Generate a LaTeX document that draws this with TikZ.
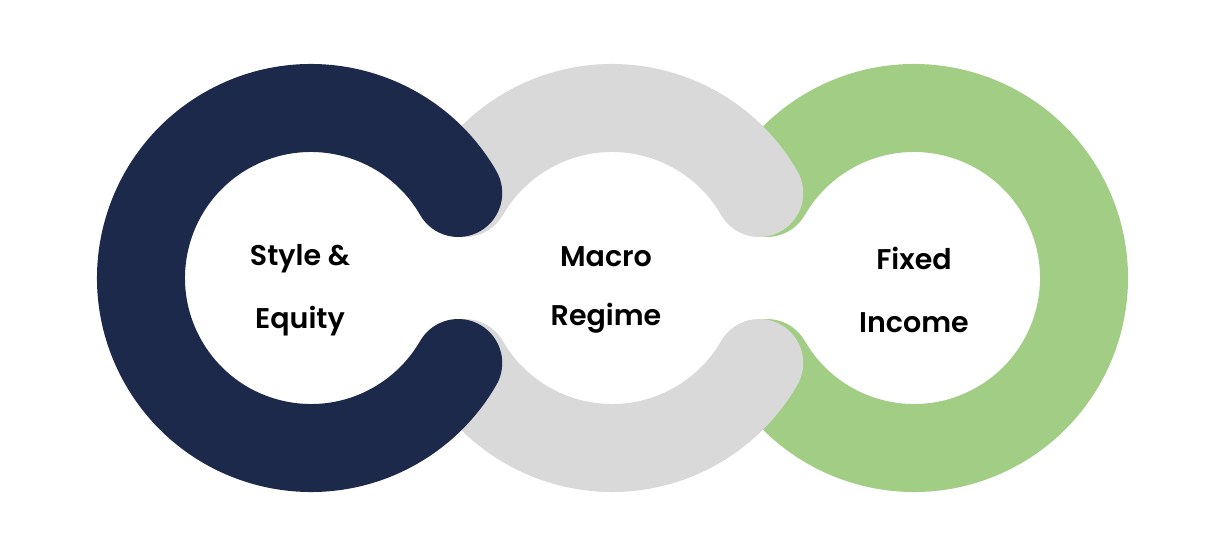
\documentclass[tikz,border=0pt]{standalone}
\usepackage{fontspec}
\newfontfamily\labfont{Poppins}[BoldFont={Poppins SemiBold}]
\definecolor{navy}{HTML}{1D294A}
\definecolor{ringgray}{HTML}{D9D9D9}
\definecolor{ringgreen}{HTML}{A1CD85}
\begin{document}
\begin{tikzpicture}[x=1pt,y=1pt,
  ring/.style={line width=88pt, line cap=round},
  lab/.style={anchor=base, inner sep=0pt, font=\labfont\bfseries\fontsize{28.5}{34}\selectfont, text=black}]
\useasboundingbox (0,0) rectangle (1220,550);
\coordinate (cN) at (311,272);
\coordinate (cM) at (612,272);
\coordinate (cF) at (914,272);
% green ring (bottom layer)
\draw[ring, ringgreen] (cF) ++(-150:170) arc[start angle=-150, end angle=150, radius=170];
% gray ring, two arcs
\draw[ring, ringgray] (cM) ++(30:170) arc[start angle=30, end angle=150, radius=170];
\draw[ring, ringgray] (cM) ++(210:170) arc[start angle=210, end angle=330, radius=170];
% navy ring (top layer)
\draw[ring, navy] (cN) ++(30:170) arc[start angle=30, end angle=330, radius=170];
% labels
\node[lab] (s1) at (300,285) {Style \&};
\node[lab] (s2) at (300,222) {Equity};
\node[lab] (m1) at (606,284) {Macro};
\node[lab] (m2) at (606,225) {Regime};
\node[lab] (f1) at (914,281) {Fixed};
\node[lab] (f2) at (914,218) {Income};
\end{tikzpicture}
\end{document}
